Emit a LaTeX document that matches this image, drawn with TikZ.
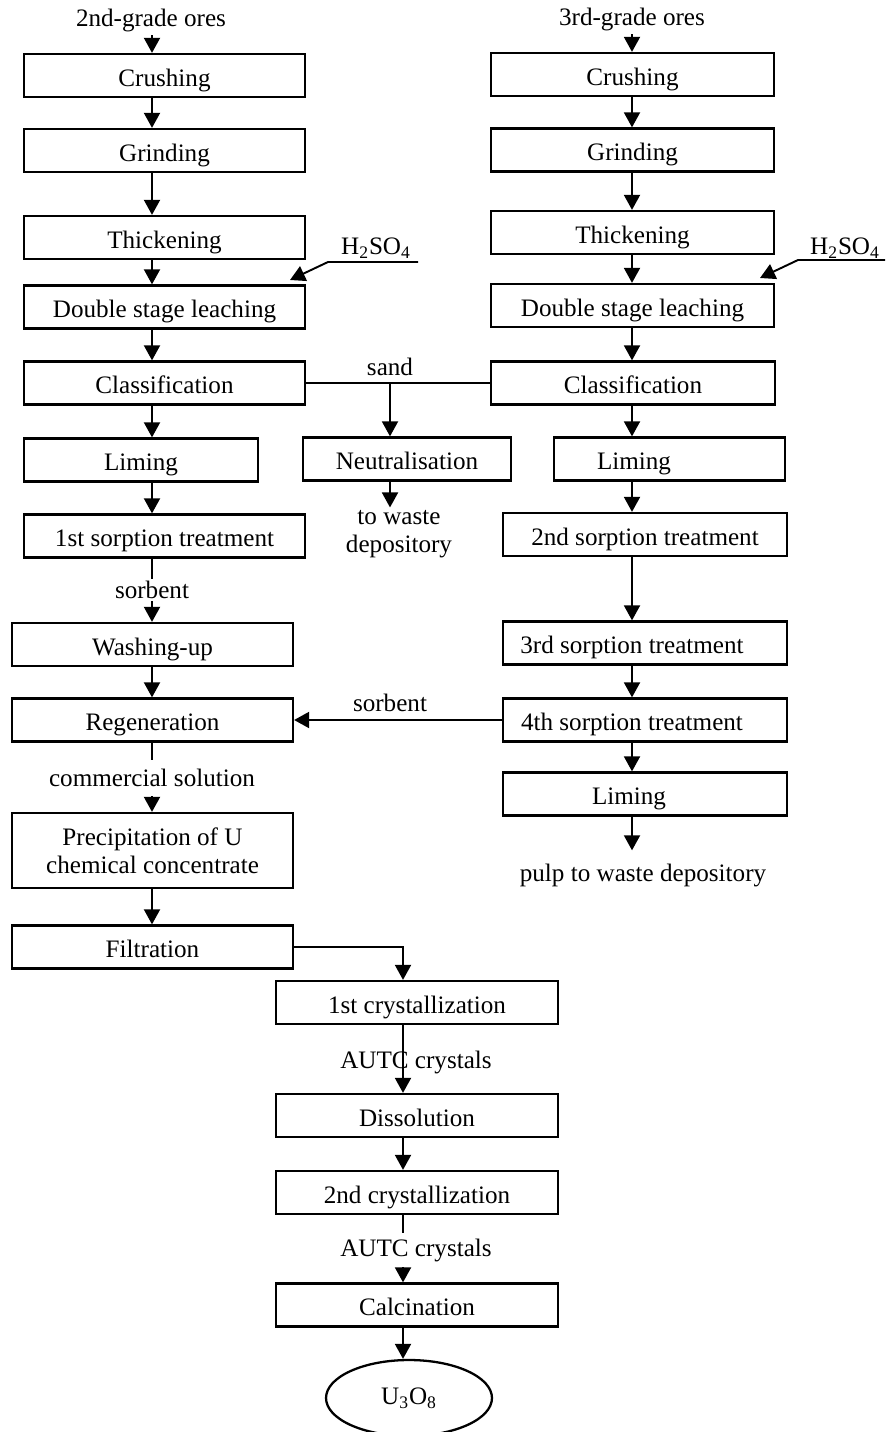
\documentclass[tikz,border=0pt]{standalone}
\usepackage{fontspec}
\setmainfont{Liberation Serif}
\usetikzlibrary{arrows.meta,shapes.geometric}

\begin{document}
\begin{tikzpicture}[->, >={Triangle[length=0.3cm,width=0.32cm]}, x=0.02cm, y=-0.02cm, line width=1.1pt,
  font=\fontsize{14.3pt}{16pt}\selectfont,
  stage/.style={rectangle, draw, line width=1.3pt, minimum height=0.86cm, inner sep=2pt, text height=13pt, text depth=0.6pt},
  note/.style={inner sep=1pt},
  gap/.style={inner sep=3pt, fill=white}]
\useasboundingbox (0,0) rectangle (885,1432);

\coordinate (L) at (152,0);
\coordinate (R) at (632,0);
\coordinate (B) at (403,0);

% 2nd-grade ores line
\node[note] (ores2) at (151,21) {2nd-grade ores};
\node[stage, minimum width=5.62cm] (crush2) at (164.5,75.5) {Crushing};
\node[stage, minimum width=5.62cm] (grind2) at (164.5,150.5) {Grinding};
\node[stage, minimum width=5.62cm] (thick2) at (164.5,237.5) {Thickening};
\node[stage, minimum width=5.62cm] (leach2) at (164.5,307) {Double stage leaching};
\node[stage, minimum width=5.62cm] (class2) at (164.5,383) {Classification};
\node[stage, minimum width=4.68cm] (lime2) at (141,460) {Liming};
\node[stage, minimum width=5.62cm] (sorp1) at (164.5,536) {1st sorption treatment};
\node[stage, minimum width=5.62cm] (wash) at (152.5,644.5) {Washing-up};
\node[stage, minimum width=5.62cm] (regen) at (152.5,720) {Regeneration};
\node[stage, minimum width=5.62cm, minimum height=1.5cm, text height=, text depth=, align=center] (precip) at (152.5,850.5) {Precipitation of U\\chemical concentrate};
\node[stage, minimum width=5.62cm] (filt) at (152.5,947) {Filtration};

% 3rd-grade ores line
\node[note] (ores3) at (632,20) {3rd-grade ores};
\node[stage, minimum width=5.66cm] (crush3) at (632.5,74.5) {Crushing};
\node[stage, minimum width=5.66cm] (grind3) at (632.5,150) {Grinding};
\node[stage, minimum width=5.66cm] (thick3) at (632.5,232.5) {Thickening};
\node[stage, minimum width=5.66cm] (leach3) at (632.5,305.5) {Double stage leaching};
\node[stage, minimum width=5.68cm] (class3) at (633,383) {Classification};
\node[stage, minimum width=4.62cm] (lime3) at (669.5,459) {\hspace*{-1.42cm}Liming};
\node[stage, minimum width=5.68cm] (sorp2) at (645,534.5) {2nd sorption treatment};
\node[stage, minimum width=5.68cm] (sorp3) at (645,643) {\hspace*{-0.52cm}3rd sorption treatment};
\node[stage, minimum width=5.68cm] (sorp4) at (645,720) {\hspace*{-0.52cm}4th sorption treatment};
\node[stage, minimum width=5.68cm] (lime4) at (645,794) {\hspace*{-0.64cm}Liming};
\node[note, inner ysep=7pt] (pulp) at (643,875) {pulp to waste depository};

% sand
\node[stage, minimum width=4.16cm] (neut) at (407,459) {Neutralisation};
\node[note, align=center] (waste) at (399,534) {to waste\\depository};
\node[note] (sand) at (390,367) {sand};
\coordinate (sj) at (390,383);

% acid
\node[note] (acid2) at (376,248) {H\textsubscript{2}SO\textsubscript{4}};
\node[note] (acid3) at (845,248) {H\textsubscript{2}SO\textsubscript{4}};
\coordinate (acid2in) at (418,262);
\coordinate (acid2tip) at (290,280);
\coordinate (acid3in) at (885,260);
\coordinate (acid3tip) at (760,278);

% end product
\node[stage, minimum width=5.64cm] (cryst1) at (417,1002.5) {1st crystallization};
\node[stage, minimum width=5.64cm] (dissol) at (417,1115.5) {Dissolution};
\node[stage, minimum width=5.64cm] (cryst2) at (417,1192.5) {2nd crystallization};
\node[stage, minimum width=5.64cm] (calc) at (417,1305) {Calcination};
\node[draw, ellipse, line width=1.3pt, minimum width=3.32cm, minimum height=1.52cm] (u3o8) at (409,1398) {U\textsubscript{3}O\textsubscript{8}};

\path
(ores2.south -| L) edge (crush2.north -| L)
(crush2.south -| L) edge (grind2.north -| L)
(grind2.south -| L) edge (thick2.north -| L)
(thick2.south -| L) edge (leach2.north -| L)
(leach2.south -| L) edge (class2.north -| L)
(class2.south -| L) edge (lime2.north -| L)
(lime2.south -| L) edge (sorp1.north -| L)
(sorp1.south -| L) edge (wash.north -| L)
(wash.south -| L) edge (regen.north -| L)
(regen.south -| L) edge (precip.north -| L)
(precip.south -| L) edge (filt.north -| L);

\path
(ores3.south -| R) edge (crush3.north -| R)
(crush3.south -| R) edge (grind3.north -| R)
(grind3.south -| R) edge (thick3.north -| R)
(thick3.south -| R) edge (leach3.north -| R)
(leach3.south -| R) edge (class3.north -| R)
(class3.south -| R) edge (lime3.north -| R)
(lime3.south -| R) edge (sorp2.north -| R)
(sorp2.south -| R) edge (sorp3.north -| R)
(sorp3.south -| R) edge (sorp4.north -| R)
(sorp4.south -| R) edge (lime4.north -| R)
(lime4.south -| R) edge (pulp.north -| R);

\draw[-] (class2.east) -- (class3.west);
\draw (sj) -- (neut.north -| sj);
\draw (neut.south -| sj) -- (waste.north -| sj);
\draw (acid2in) -- ++(-90,0) -- (acid2tip);
\draw (acid3in) -- ++(-87,0) -- (acid3tip);
\draw (sorp4.west) -- (regen.east);
\node[note] (sorb4) at (390,703) {sorbent};
\draw (filt.east) -| (cryst1.north -| B);

\path
(cryst1.south -| B) edge (dissol.north -| B)
(dissol.south -| B) edge (cryst2.north -| B)
(cryst2.south -| B) edge (calc.north -| B)
(calc.south -| B) edge (u3o8.north -| B);

% labels on the lines
\node[gap, inner ysep=1.5pt] (sorb1) at (152,590) {sorbent};
\node[gap, inner ysep=5pt] (comm) at (152,778) {commercial solution};
\node[note] (autc1) at (416,1062) {AUTC crystals};
\node[gap] (autc2) at (416,1250) {AUTC crystals};
\end{tikzpicture}
\end{document}
